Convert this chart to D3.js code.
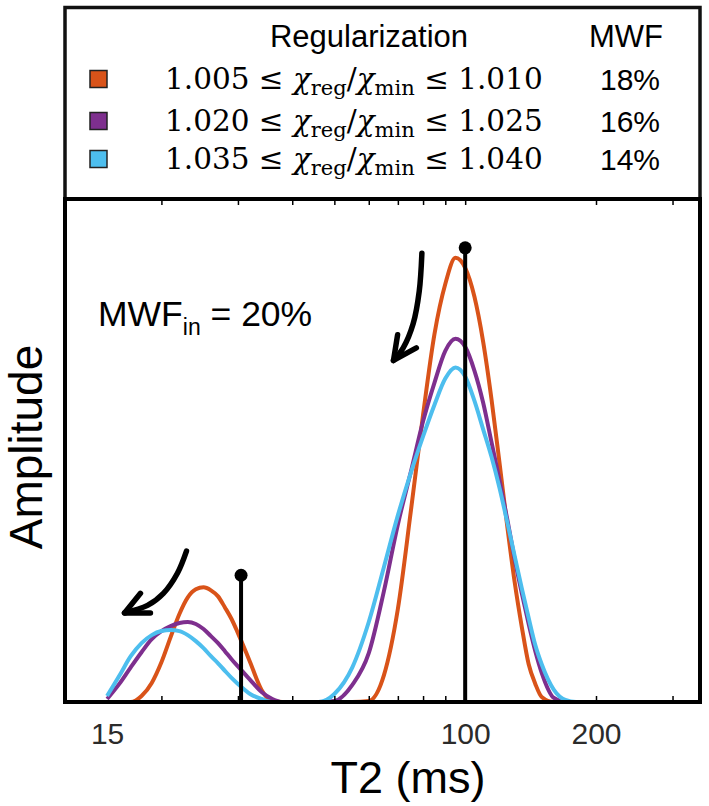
<!DOCTYPE html>
<html><head><meta charset="utf-8">
<script src="https://cdn.jsdelivr.net/npm/d3@7"></script>
<style>body{margin:0;background:#fff} svg{display:block}</style>
</head><body><svg id="c" width="709" height="806"></svg>
<script>
// ---- data ----
const t2Grid = [15,16,17,18,19,20,21,22,23,24,25,26,27,28,29,30,32,34,36,38,40,43,46,50,55,60,65,70,75,80,85,90,95,100,105,110,115,120,125,130,135,140,145,150,160,170,180,190];
const ampOrange = [0,0,0,0.012,0.038,0.079,0.129,0.175,0.208,0.224,0.228,0.222,0.210,0.188,0.165,0.137,0.079,0.024,0.002,0,0,0,0,0,0,0.002,0.053,0.185,0.380,0.571,0.732,0.831,0.883,0.863,0.806,0.716,0.601,0.474,0.349,0.238,0.149,0.075,0.036,0.010,0,0,0,0];
const ampPurple = [0.006,0.036,0.069,0.099,0.125,0.141,0.151,0.157,0.159,0.155,0.145,0.131,0.117,0.101,0.085,0.071,0.044,0.020,0.006,0,0,0,0,0.002,0.034,0.097,0.220,0.353,0.458,0.558,0.635,0.698,0.722,0.706,0.659,0.595,0.516,0.440,0.363,0.284,0.216,0.155,0.101,0.058,0.008,0,0,0];
const ampBlue = [0.012,0.052,0.091,0.117,0.133,0.141,0.143,0.141,0.133,0.121,0.107,0.091,0.077,0.062,0.048,0.036,0.016,0.006,0,0,0,0,0,0.016,0.069,0.159,0.268,0.371,0.456,0.528,0.591,0.643,0.665,0.647,0.599,0.542,0.487,0.425,0.357,0.290,0.226,0.167,0.113,0.075,0.024,0.004,0,0];
const seriesColors = ["#D95319","#7E2F8E","#4DBEEE"];
const chiLow = ["1.005","1.020","1.035"];
const chiHigh = ["1.010","1.025","1.040"];
const mwfOut = ["18%","16%","14%"];
const spikeT2 = [30.5, 100];
const spikeAmp = [0.252, 0.903];
const labelTicks = [15, 100, 200];
const minorTicks = [20,30,40,50,60,70,80,90,100,200,300];
const arrowBigShaft = [[79.5,0.892],[78.4,0.817],[75.9,0.752],[72.0,0.704],[68.4,0.679]];
const arrowBigHead = [[69.9,0.730],[68.4,0.679],[77.2,0.704]];
const arrowSmallShaft = [[22.84,0.300],[21.77,0.256],[20.21,0.216],[18.58,0.192],[16.45,0.177]];
const arrowSmallHead = [[17.90,0.216],[16.45,0.177],[18.87,0.177]];

// ---- layout ----
const L = 65, R = 700, T = 199, B = 702, LT = 7.5;
const svg = d3.select("#c");
const x = d3.scaleLog().domain([12, 347]).range([L, R]);
const y = d3.scaleLinear().domain([0, 1]).range([B, T]);
const sans = "Liberation Sans, Arial, sans-serif";

svg.append("defs").append("clipPath").attr("id","pc")
  .append("rect").attr("x",L).attr("y",T).attr("width",R-L).attr("height",B-T);

const series = [ampOrange, ampPurple, ampBlue].map((a,i)=>({color:seriesColors[i], pts:t2Grid.map((t,j)=>[t,a[j]])}));
const line = d3.line().x(d=>x(d[0])).y(d=>y(d[1])).curve(d3.curveMonotoneX);
const gCurves = svg.append("g").attr("clip-path","url(#pc)");
gCurves.selectAll("path").data(series).join("path")
  .attr("d",d=>line(d.pts)).attr("fill","none").attr("stroke",d=>d.color)
  .attr("stroke-width",4).attr("stroke-linejoin","round");

// spikes
const spikes = spikeT2.map((t,i)=>({t, a:spikeAmp[i]}));
svg.append("g").selectAll("line").data(spikes).join("line")
  .attr("x1",d=>x(d.t)).attr("x2",d=>x(d.t)).attr("y1",y(0)).attr("y2",d=>y(d.a))
  .attr("stroke","#000").attr("stroke-width",4);
svg.append("g").selectAll("circle").data(spikes).join("circle")
  .attr("cx",d=>x(d.t)).attr("cy",d=>y(d.a)).attr("r",6.5).attr("fill","#000");

// arrows
const aLine = d3.line().x(d=>x(d[0])).y(d=>y(d[1])).curve(d3.curveCatmullRom);
const aHead = d3.line().x(d=>x(d[0])).y(d=>y(d[1]));
const ga = svg.append("g").attr("fill","none").attr("stroke","#000").attr("stroke-width",5.5)
  .attr("stroke-linecap","round").attr("stroke-linejoin","round");
ga.append("path").attr("d",aLine(arrowBigShaft));
ga.append("path").attr("d",aHead(arrowBigHead));
ga.append("path").attr("d",aLine(arrowSmallShaft));
ga.append("path").attr("d",aHead(arrowSmallHead));

// frames
svg.append("rect").attr("x",L).attr("y",LT).attr("width",R-L).attr("height",T-LT)
  .attr("fill","none").attr("stroke","#111").attr("stroke-width",3.5);
svg.append("rect").attr("x",L).attr("y",T).attr("width",R-L).attr("height",B-T)
  .attr("fill","none").attr("stroke","#000").attr("stroke-width",4);

// ticks (inward)
const bt = svg.append("g").attr("transform",`translate(0,${B})`)
  .call(d3.axisBottom(x).tickValues(minorTicks).tickSize(-6).tickFormat(""));
const tt = svg.append("g").attr("transform",`translate(0,${T})`)
  .call(d3.axisTop(x).tickValues(minorTicks).tickSize(-6).tickFormat(""));
[bt,tt].forEach(g=>{g.select(".domain").remove(); g.selectAll(".tick line").attr("stroke","#000").attr("stroke-width",1.5);});

// tick labels
const lab = svg.append("g").attr("transform",`translate(0,${B})`)
  .call(d3.axisBottom(x).tickValues(labelTicks).tickSize(0).tickPadding(21).tickFormat(d3.format("d")));
lab.select(".domain").remove();
lab.selectAll(".tick text").attr("font-family",sans)
  .attr("font-size",30).attr("fill","#2b2b2b").attr("dy","0.71em");

// axis titles
svg.append("text").attr("x",408).attr("y",793).attr("text-anchor","middle")
  .attr("font-family",sans).attr("font-size",45).text("T2 (ms)");
svg.append("text").attr("transform","translate(42,447) rotate(-90)").attr("text-anchor","middle")
  .attr("font-family",sans).attr("font-size",46).text("Amplitude");

// MWF_in annotation
const mt = svg.append("text").attr("x",98).attr("y",326)
  .attr("font-family",sans).attr("font-size",35.5);
mt.append("tspan").text("MWF");
mt.append("tspan").attr("font-size",23).attr("dy",9).text("in");
mt.append("tspan").attr("dy",-9).text(" = 20%");

// legend
svg.append("text").attr("x",369).attr("y",47).attr("text-anchor","middle")
  .attr("font-family",sans).attr("font-size",31).text("Regularization");
svg.append("text").attr("x",626).attr("y",47).attr("text-anchor","middle")
  .attr("font-family",sans).attr("font-size",31).text("MWF");
const rowsY = [79, 121, 159];
const lg = svg.append("g");
seriesColors.forEach((c,i)=>{
  const cy = rowsY[i];
  lg.append("rect").attr("x",90).attr("y",cy-8.5).attr("width",17).attr("height",17)
    .attr("fill",c).attr("stroke","#222").attr("stroke-width",1.5);
  const t = lg.append("text").attr("x",165).attr("y",cy+10)
    .attr("font-family","DejaVu Serif, serif").attr("font-size",29.5);
  t.append("tspan").text(chiLow[i] + " ≤ ");
  t.append("tspan").attr("font-style","italic").text("χ");
  t.append("tspan").attr("font-size",21).attr("dy",6).text("reg");
  t.append("tspan").attr("dy",-6).text("/");
  t.append("tspan").attr("font-style","italic").text("χ");
  t.append("tspan").attr("font-size",21).attr("dy",6).text("min");
  t.append("tspan").attr("dy",-6).text(" ≤ " + chiHigh[i]);
  lg.append("text").attr("x",630).attr("y",cy+11).attr("text-anchor","middle")
    .attr("font-family",sans).attr("font-size",30).text(mwfOut[i]);
});
</script></body></html>
